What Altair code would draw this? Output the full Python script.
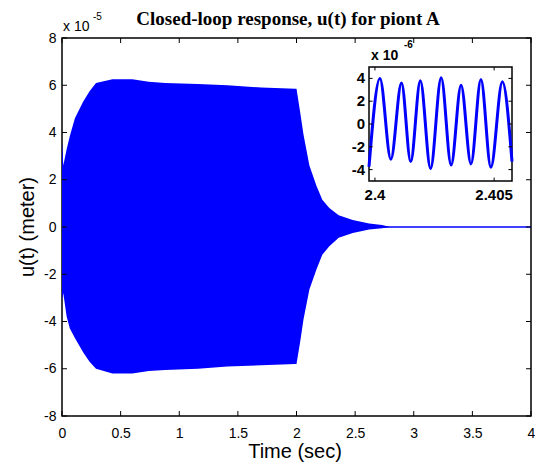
import altair as alt
import pandas as pd

# ---------------- data (displacement in units of 1e-5 m) ----------------
env_t = [0.0, 0.011, 0.04, 0.067, 0.11, 0.18, 0.235, 0.29, 0.43, 0.6, 0.74, 0.88,
         1.16, 1.41, 1.7, 1.99, 2.0, 2.03, 2.06, 2.11, 2.17, 2.22, 2.28, 2.36,
         2.48, 2.62, 2.73, 2.8]
env_upper = [3.6, 2.6, 3.3, 3.85, 4.6, 5.3, 5.75, 6.1, 6.25, 6.25, 6.15, 6.1,
             6.05, 6.0, 5.9, 5.85, 5.85, 4.9, 3.9, 2.6, 1.75, 1.15, 0.8, 0.5,
             0.3, 0.15, 0.08, 0.0]
env_lower = [-3.1, -2.8, -3.8, -4.3, -4.7, -5.3, -5.7, -6.0, -6.2, -6.2, -6.1, -6.05,
             -6.0, -5.9, -5.85, -5.8, -5.8, -4.9, -3.9, -2.65, -1.8, -1.17, -0.81, -0.46,
             -0.25, -0.11, -0.05, 0.0]
tail_t = [2.6, 4.0]
tail_u = [0.0, 0.0]

x_ticks = [0, 0.5, 1, 1.5, 2, 2.5, 3, 3.5, 4]
y_ticks = [-8, -6, -4, -2, 0, 2, 4, 6, 8]

# inset (units of 1e-6 m)
inset_t = [2.39975, 2.400208, 2.400667, 2.401113, 2.4015, 2.401904, 2.402333,
           2.402779, 2.403196, 2.403613, 2.404029, 2.404446, 2.404863, 2.405346, 2.40575]
inset_u = [-3.75, 4.0, -3.1, 3.6, -3.3, 3.8, -3.9, 4.05, -3.6, 3.4, -3.5, 3.9, -3.8, 3.7, -3.3]
inset_x_ticks = [2.4, 2.405]
inset_x_labels = ["2.4", "2.405"]
inset_y_ticks = [-4, -2, 0, 2, 4]
inset_y_labels = ["-4", "-2", "0", "2", "4"]

W, H = 469, 378
BLUE = "#0000ff"
SANS = "Liberation Sans"

env = pd.DataFrame({"t": env_t, "upper": env_upper, "lower": env_lower})
tail = pd.DataFrame({"t": tail_t, "u": tail_u})
xt = pd.DataFrame({"v": x_ticks})
yt = pd.DataFrame({"v": y_ticks})
ins = pd.DataFrame({"t": inset_t, "u": inset_u})
ixt = pd.DataFrame({"v": inset_x_ticks, "lab": inset_x_labels})
iyt = pd.DataFrame({"v": inset_y_ticks, "lab": inset_y_labels})
one = pd.DataFrame({"a": [0]})

xs = alt.Scale(domain=[0, 4], nice=False, zero=False)
ys = alt.Scale(domain=[-8, 8], nice=False, zero=False)
xa = alt.Axis(values=x_ticks, labelExpr="toString(datum.value)", ticks=False, tickSize=0,
              domain=False, grid=False, labelFont=SANS, labelFontSize=14, labelColor="black",
              labelPadding=10, labelFlush=False, labelOverlap=False, title=None)
ya = alt.Axis(values=y_ticks, labelExpr="toString(datum.value)", ticks=False, tickSize=0,
              domain=False, grid=False, labelFont=SANS, labelFontSize=14, labelColor="black",
              labelPadding=6, labelOverlap=False, title=None)

area = alt.Chart(env).mark_area(color=BLUE, interpolate="linear").encode(
    x=alt.X("t:Q", scale=xs, axis=xa),
    y=alt.Y("upper:Q", scale=ys, axis=ya),
    y2="lower:Q",
)
tail_line = alt.Chart(tail).mark_line(color=BLUE, strokeWidth=1.3).encode(
    x=alt.X("t:Q", scale=xs, axis=xa),
    y=alt.Y("u:Q", scale=ys, axis=ya),
)
xtick_top = alt.Chart(xt).mark_rule(color="black", strokeWidth=1).encode(
    x=alt.X("v:Q", scale=xs, axis=xa), y=alt.value(0), y2=alt.value(5))
xtick_bot = alt.Chart(xt).mark_rule(color="black", strokeWidth=1).encode(
    x=alt.X("v:Q", scale=xs, axis=xa), y=alt.value(H - 5), y2=alt.value(H))
ytick_l = alt.Chart(yt).mark_rule(color="black", strokeWidth=1).encode(
    y=alt.Y("v:Q", scale=ys, axis=ya), x=alt.value(0), x2=alt.value(5))
ytick_r = alt.Chart(yt).mark_rule(color="black", strokeWidth=1).encode(
    y=alt.Y("v:Q", scale=ys, axis=ya), x=alt.value(W - 5), x2=alt.value(W))

exp_main = alt.Chart(one).mark_text(font=SANS, fontSize=14, align="left", baseline="alphabetic",
                                     color="black").encode(
    x=alt.value(1), y=alt.value(-7), text=alt.value("x 10"))
exp_main2 = alt.Chart(one).mark_text(font=SANS, fontSize=10, align="left", baseline="alphabetic",
                                      color="black").encode(
    x=alt.value(31), y=alt.value(-18), text=alt.value("-5"))
title = alt.Chart(one).mark_text(font="Liberation Serif", fontSize=19, fontWeight="bold",
                                  align="center", baseline="alphabetic", color="black").encode(
    x=alt.value(226), y=alt.value(-13), text=alt.value("Closed-loop response, u(t) for piont A"))
ytitle = alt.Chart(one).mark_text(font=SANS, fontSize=20, angle=270, align="center",
                                   baseline="alphabetic", color="black").encode(
    x=alt.value(-28), y=alt.value(189), text=alt.value("u(t) (meter)"))
xtitle = alt.Chart(one).mark_text(font=SANS, fontSize=20, align="center",
                                   baseline="alphabetic", color="black").encode(
    x=alt.value(233), y=alt.value(420), text=alt.value("Time (sec)"))

main = alt.layer(area, tail_line, xtick_top, xtick_bot, ytick_l, ytick_r,
                 exp_main, exp_main2, title, ytitle, xtitle)

# ---------------- inset ----------------
IX0, IX1 = 2.39975, 2.40575
ixs = alt.Scale(domain=[IX0, IX1], range=[307, 450], nice=False, zero=False)
iys = alt.Scale(domain=[-5, 5], range=[143, 29], nice=False, zero=False)

frame = alt.Chart(one).mark_rect(fill="white", stroke="black", strokeWidth=1.5).encode(
    x=alt.X(datum=IX0, type="quantitative", scale=ixs, axis=None),
    x2=alt.X2(datum=IX1),
    y=alt.Y(datum=-5, type="quantitative", scale=iys, axis=None),
    y2=alt.Y2(datum=5),
)
iline = alt.Chart(ins).mark_line(color=BLUE, strokeWidth=3, interpolate="monotone").encode(
    x=alt.X("t:Q", scale=ixs, axis=None),
    y=alt.Y("u:Q", scale=iys, axis=None),
)
iylab = alt.Chart(iyt).mark_text(font=SANS, fontSize=15, fontWeight="bold", align="right",
                                  baseline="middle", dx=-4, color="black").encode(
    x=alt.X(datum=IX0, type="quantitative", scale=ixs, axis=None),
    y=alt.Y("v:Q", scale=iys, axis=None),
    text="lab:N",
)
ixlab = alt.Chart(ixt).mark_text(font=SANS, fontSize=15, fontWeight="bold", align="center",
                                  baseline="alphabetic", dy=19, color="black").encode(
    x=alt.X("v:Q", scale=ixs, axis=None),
    y=alt.Y(datum=-5, type="quantitative", scale=iys, axis=None),
    text="lab:N",
)
iyt_l = alt.Chart(iyt).mark_rule(color="black", strokeWidth=1).encode(
    y=alt.Y("v:Q", scale=iys, axis=None),
    x=alt.X(datum=IX0, type="quantitative", scale=ixs, axis=None),
    x2=alt.X2(datum=IX0 + 0.00015),
)
iyt_r = alt.Chart(iyt).mark_rule(color="black", strokeWidth=1).encode(
    y=alt.Y("v:Q", scale=iys, axis=None),
    x=alt.X(datum=IX1 - 0.00015, type="quantitative", scale=ixs, axis=None),
    x2=alt.X2(datum=IX1),
)
ixt_b = alt.Chart(ixt).mark_rule(color="black", strokeWidth=1).encode(
    x=alt.X("v:Q", scale=ixs, axis=None),
    y=alt.Y(datum=-5, type="quantitative", scale=iys, axis=None),
    y2=alt.Y2(datum=-4.7),
)
ixt_t = alt.Chart(ixt).mark_rule(color="black", strokeWidth=1).encode(
    x=alt.X("v:Q", scale=ixs, axis=None),
    y=alt.Y(datum=4.7, type="quantitative", scale=iys, axis=None),
    y2=alt.Y2(datum=5),
)
iexp = alt.Chart(one).mark_text(font=SANS, fontSize=14, fontWeight="bold", align="left",
                                 baseline="alphabetic", color="black").encode(
    x=alt.value(309), y=alt.value(22), text=alt.value("x 10"))
iexp2 = alt.Chart(one).mark_text(font=SANS, fontSize=10, fontWeight="bold", align="left",
                                  baseline="alphabetic", color="black").encode(
    x=alt.value(342), y=alt.value(10), text=alt.value("-6"))

inset = alt.layer(frame, iline, iylab, ixlab, iyt_l, iyt_r, ixt_b, ixt_t, iexp, iexp2)

chart = alt.layer(main, inset).resolve_scale(x="independent", y="independent").properties(
    width=W, height=H,
    autosize=alt.AutoSizeParams(type="none"),
    padding={"left": 54, "top": 30, "right": 4, "bottom": 47},
    background="white",
).configure_view(stroke="black", strokeWidth=1.5)

chart.save("out.html", embed_options={"renderer": "svg", "actions": False})
